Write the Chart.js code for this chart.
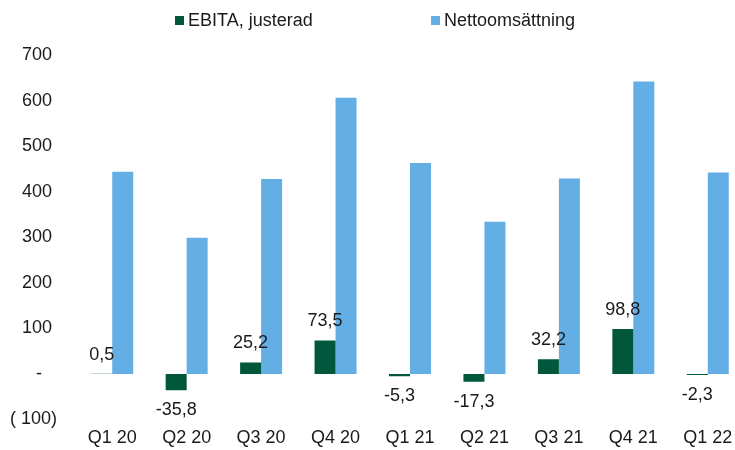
<!DOCTYPE html>
<html>
<head>
<meta charset="utf-8">
<script src="https://cdn.jsdelivr.net/npm/chart.js@4"></script>
<style>
  html, body { margin: 0; padding: 0; background: #fff; }
  #wrap { position: relative; width: 735px; height: 450px; overflow: hidden; }
  #box { position: absolute; left: 0; top: 0; width: 760px; height: 450px; }
  .leg { position: absolute; top: 9px; font: 18px "Liberation Sans", Arial, sans-serif; color: #1a1a1a; white-space: nowrap; line-height: 22px; }
  .leg i { display: inline-block; width: 9px; height: 9px; margin-right: 4px; vertical-align: 1px; }
</style>
</head>
<body>
<div id="wrap">
  <div id="box"><canvas id="salesChart" width="760" height="450"></canvas></div>
  <div class="leg" style="left:175px"><i style="background:#00573b"></i>EBITA, justerad</div>
  <div class="leg" style="left:431px"><i style="background:#63aee5"></i>Nettoomsättning</div>
</div>
<script>
const quarters = ["Q1 20", "Q2 20", "Q3 20", "Q4 20", "Q1 21", "Q2 21", "Q3 21", "Q4 21", "Q1 22"];
const ebita = [0.5, -35.8, 25.2, 73.5, -5.3, -17.3, 32.2, 98.8, -2.3];
const netSales = [444, 299, 428, 606, 463, 334, 429, 642, 442];
const yTicks = [-100, 0, 100, 200, 300, 400, 500, 600, 700];

function fmt(v) {
    return v.toFixed(1).replace(".", ",");
}

// draws the EBITA value above/below each bar
const ebitaLabels = {
    id: "ebitaLabels",
    afterDatasetsDraw(chart) {
        const ctx = chart.ctx;
        const meta = chart.getDatasetMeta(0);
        ctx.save();
        ctx.font = '18px "Liberation Sans", Arial, sans-serif';
        ctx.fillStyle = "#1a1a1a";
        ctx.textAlign = "center";
        ctx.textBaseline = "middle";
        meta.data.forEach(function (bar, i) {
            const v = ebita[i];
            const y = v >= 0 ? Math.min(bar.y, bar.base) - 19 : Math.max(bar.y, bar.base) + 20;
            ctx.fillText(fmt(v), bar.x, y);
        });
        ctx.restore();
    },
};

const data = {
    labels: quarters,
    datasets: [
        {
            label: "EBITA, justerad",
            data: ebita,
            backgroundColor: "#00573b",
        },
        {
            label: "Nettoomsättning",
            data: netSales,
            backgroundColor: "#63aee5",
        },
    ],
};

const config = {
    type: "bar",
    data: data,
    options: {
        responsive: false,
        animation: false,
        categoryPercentage: 0.564,
        barPercentage: 1,
        layout: { padding: { top: 55, right: 15, bottom: 0, left: 0 } },
        plugins: {
            legend: { display: false },
            tooltip: { enabled: false },
        },
        scales: {
            x: {
                afterFit(scale) {
                    scale.height = 30.5;
                },
                grid: { display: false, drawTicks: false },
                border: { display: false },
                ticks: {
                    padding: 8,
                    color: "#1a1a1a",
                    font: { family: '"Liberation Sans", Arial, sans-serif', size: 18 },
                },
            },
            y: {
                min: -100,
                max: 700,
                afterBuildTicks(scale) {
                    scale.ticks = yTicks.map(function (v) { return { value: v }; });
                },
                afterFit(scale) {
                    scale.width = 75;
                },
                grid: { display: false, drawTicks: false },
                border: { display: false },
                ticks: {
                    padding: 18,
                    color: "#1a1a1a",
                    font: { family: '"Liberation Sans", Arial, sans-serif', size: 18 },
                    callback: function (v) {
                        if (v === 0) return "-\u00a0\u00a0\u00a0";
                        if (v < 0) return "( " + Math.abs(v) + ")";
                        return v + "\u00a0";
                    },
                },
            },
        },
    },
    plugins: [ebitaLabels],
};

const salesChart = new Chart(document.getElementById("salesChart"), config);
</script>
</body>
</html>
